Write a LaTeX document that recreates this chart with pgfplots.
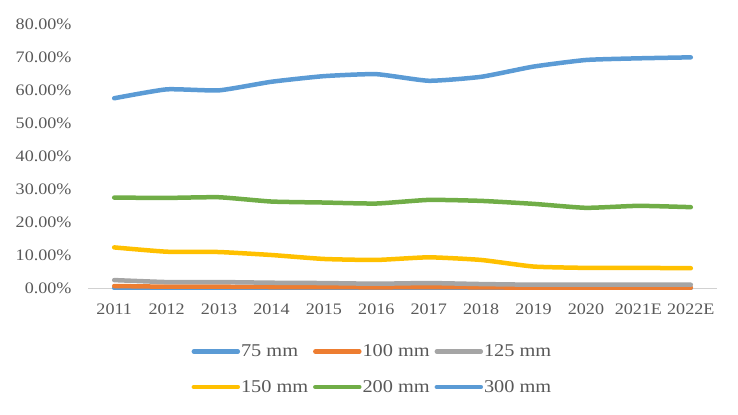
\documentclass[border=0pt]{standalone}
\usepackage{pgfplots}
\pgfplotsset{compat=1.18}
\usepackage{fontspec}
\setmainfont{Liberation Serif}[FakeStretch=1.13]
\definecolor{cblue}{HTML}{5B9BD5}
\definecolor{corange}{HTML}{ED7D31}
\definecolor{cgray}{HTML}{A5A5A5}
\definecolor{cyellow}{HTML}{FFC000}
\definecolor{cgreen}{HTML}{70AD47}
\definecolor{ctext}{HTML}{595959}
\newcommand{\legtxt}[1]{\makebox[68bp][l]{#1}}
\begin{document}
\begin{tikzpicture}[x=1bp,y=1bp]
\path[use as bounding box] (0,0) rectangle (738,414);
\begin{axis}[
  at={(88bp,126bp)}, anchor=south west,
  scale only axis, width=629bp, height=264bp,
  xmin=-0.5, xmax=11.5, ymin=0, ymax=80,
  xtick={0,...,11},
  xticklabels={2011,2012,2013,2014,2015,2016,2017,2018,2019,2020,2021E,2022E},
  ytick={0,10,...,80},
  yticklabel={\pgfmathprintnumber[fixed,fixed zerofill,precision=2]{\tick}\%},
  /pgf/number format/assume math mode=true,
  axis y line*=left,
  y axis line style={draw=none},
  axis x line*=bottom,
  x axis line style={draw=black!18, line width=1bp, -},
  ytick style={draw=none}, xtick style={draw=none},
  every tick label/.append style={font=\fontsize{16bp}{18bp}\selectfont, text=ctext},
  yticklabel style={anchor=east, xshift=-13bp},
  xticklabel style={anchor=north, yshift=-12bp},
  clip=false,
  legend columns=3,
  legend style={draw=none, at={(0.452,-0.203)}, anchor=north,
    font=\fontsize{18bp}{20bp}\selectfont, text=ctext,
    row sep=20bp, column sep=0bp,
    nodes={inner sep=1bp},
    /tikz/every even column/.append style={column sep=3bp}},
  legend image code/.code={\draw[#1, line cap=round] (0bp,0bp) -- (44bp,0bp);},
  every axis plot/.append style={line width=4.5bp, smooth, tension=0.3, line cap=round, no markers},
]
\addplot[cblue] coordinates {(0,0)(1,0)(2,0)(3,0)(4,0)(5,0)(6,0)(7,0)(8,0)(9,0)(10,0)(11,0)};
\addlegendentry{\legtxt{75 mm}}
\addplot[corange] coordinates {(0,0.6)(1,0.4)(2,0.4)(3,0.3)(4,0.3)(5,0.2)(6,0.3)(7,0.2)(8,0.1)(9,0.1)(10,0.1)(11,0.1)};
\addlegendentry{\legtxt{100 mm}}
\addplot[cgray] coordinates {(0,2.4)(1,1.8)(2,1.8)(3,1.6)(4,1.5)(5,1.3)(6,1.5)(7,1.2)(8,1.0)(9,1.0)(10,1.0)(11,1.0)};
\addlegendentry{\legtxt{125 mm}}
\addplot[cyellow] coordinates {(0,12.3)(1,11.0)(2,10.9)(3,10.0)(4,8.8)(5,8.5)(6,9.3)(7,8.5)(8,6.5)(9,6.1)(10,6.1)(11,6.0)};
\addlegendentry{\legtxt{150 mm}}
\addplot[cgreen] coordinates {(0,27.4)(1,27.3)(2,27.5)(3,26.2)(4,25.9)(5,25.6)(6,26.7)(7,26.4)(8,25.5)(9,24.3)(10,24.9)(11,24.5)};
\addlegendentry{\legtxt{200 mm}}
\addplot[cblue] coordinates {(0,57.5)(1,60.2)(2,59.9)(3,62.5)(4,64.2)(5,64.8)(6,62.8)(7,64.0)(8,67.1)(9,69.1)(10,69.6)(11,69.9)};
\addlegendentry{\legtxt{300 mm}}
\end{axis}
\end{tikzpicture}
\end{document}
